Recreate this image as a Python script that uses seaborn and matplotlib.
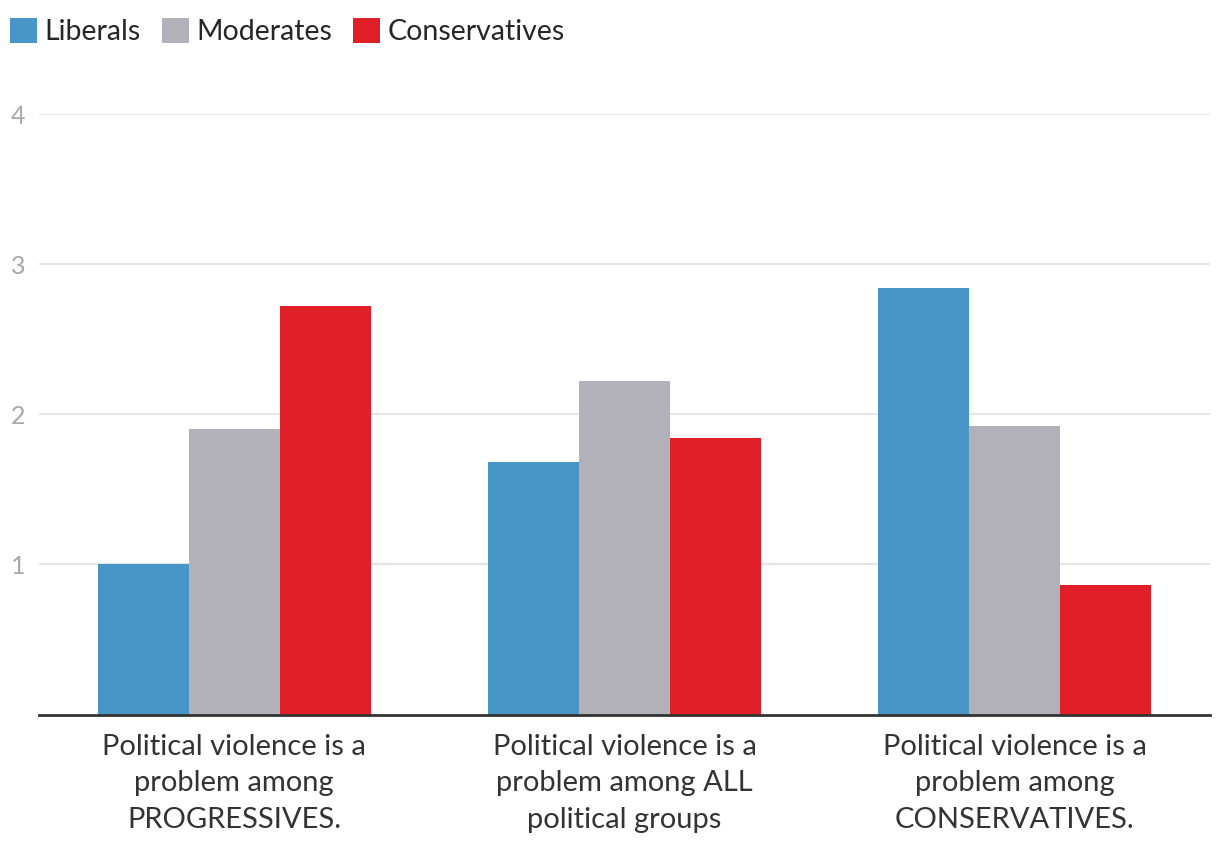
import matplotlib.pyplot as plt
import pandas as pd
import seaborn as sns

# Values
statements = [
    "Political violence is a\nproblem among\nPROGRESSIVES.",
    "Political violence is a\nproblem among ALL\npolitical groups",
    "Political violence is a\nproblem among\nCONSERVATIVES.",
]
groups = ["Liberals", "Moderates", "Conservatives"]
liberals = [1.00, 1.68, 2.84]
moderates = [1.90, 2.22, 1.92]
conservatives = [2.72, 1.84, 0.86]
y_ticks = [1, 2, 3, 4]

colors = {"Liberals": "#4796C7", "Moderates": "#B2B1BA", "Conservatives": "#E11F28"}

df = pd.DataFrame(
    {
        "statement": statements * 3,
        "group": [g for g in groups for _ in statements],
        "value": liberals + moderates + conservatives,
    }
)

sns.set_theme(style="white")
plt.rcParams["font.family"] = ["Lato", "DejaVu Sans"]

fig = plt.figure(figsize=(12.2, 8.6), dpi=100)
ax = fig.add_axes([39 / 1220, 1 - 714.5 / 860, 1171 / 1220, 600.5 / 860])

sns.barplot(
    data=df,
    x="statement",
    y="value",
    hue="group",
    hue_order=groups,
    palette=colors,
    width=0.7,
    saturation=1,
    linewidth=0,
    ax=ax,
    legend=True,
)

ax.set_xlim(-0.5, 2.5)
ax.set_ylim(0, 4)
ax.set_yticks(y_ticks)
ax.set_yticklabels([str(t) for t in y_ticks])
ax.yaxis.grid(True, color="#E6E6E6", linewidth=1.5)
ax.set_axisbelow(True)
ax.set_xlabel("")
ax.set_ylabel("")

for side in ["top", "right", "left"]:
    ax.spines[side].set_visible(False)
ax.spines["bottom"].set_color("#333333")
ax.spines["bottom"].set_linewidth(2)

ax.tick_params(axis="y", length=0, pad=0, labelsize=18, labelcolor="#A8A8A8")
for lab in ax.get_yticklabels():
    lab.set_horizontalalignment("left")
    lab.set_x(-28 / 1171)
ax.tick_params(axis="x", length=0, pad=14, labelsize=21, labelcolor="#333333")
for lab in ax.get_xticklabels():
    lab.set_linespacing(1.5)

handles, labels = ax.get_legend_handles_labels()
ax.legend_.remove()
fig.legend(
    handles,
    labels,
    loc="upper left",
    bbox_to_anchor=(0.006, 0.982),
    ncol=3,
    frameon=False,
    fontsize=20.5,
    handlelength=0.95,
    handleheight=0.95,
    handletextpad=0.25,
    columnspacing=0.75,
    borderpad=0.1,
    borderaxespad=0.0,
)

fig.savefig("out.png", dpi=100)
